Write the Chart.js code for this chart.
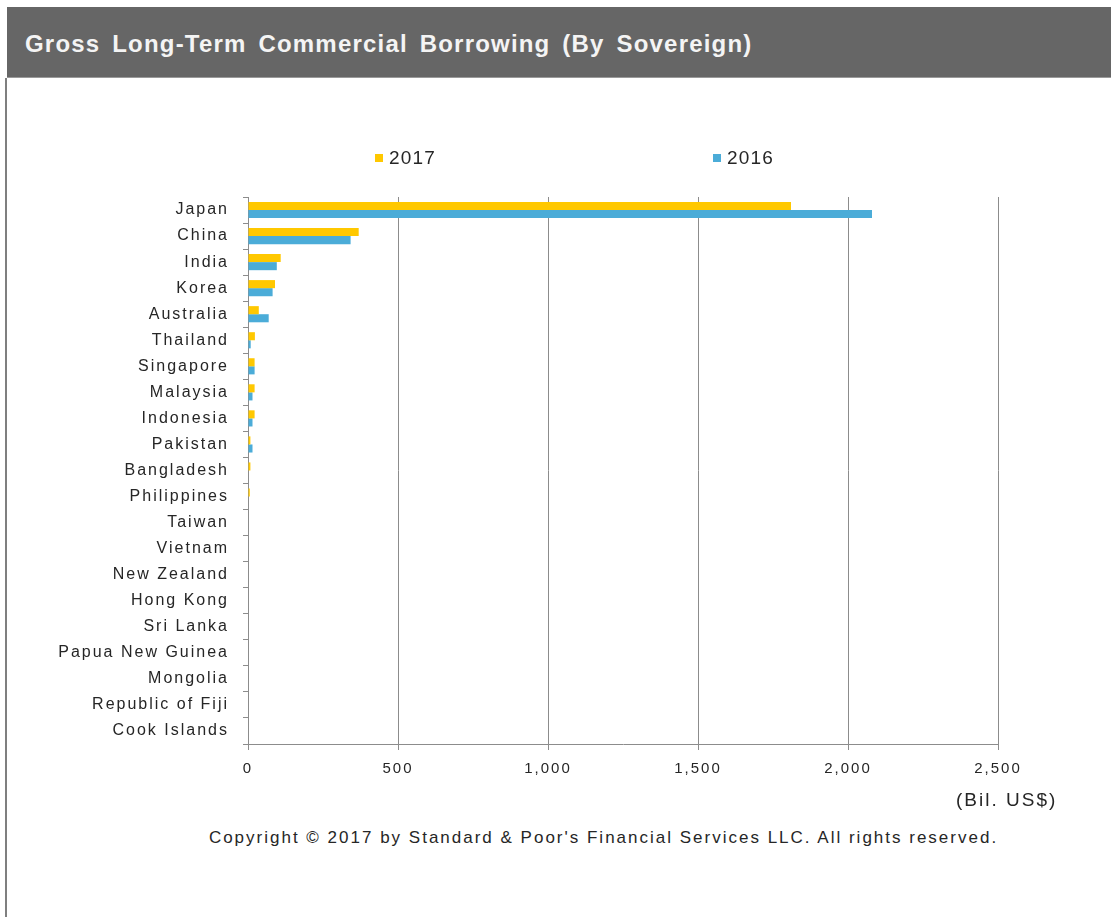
<!DOCTYPE html>
<html>
<head>
<meta charset="utf-8">
<script src="https://cdn.jsdelivr.net/npm/chart.js@4.4.1/dist/chart.umd.min.js"></script>
<style>
  html, body { margin: 0; padding: 0; background: #ffffff; }
  body { width: 1111px; height: 917px; position: relative; overflow: hidden; font-family: "Liberation Sans", Arial, sans-serif; }
  #titlebar { position: absolute; left: 7px; top: 7px; width: 1104px; height: 71px; background: #666666; border-bottom: 1px solid #9a9a9a; box-sizing: border-box; }
  #titlebar span { position: absolute; left: 18px; top: 23px; font-size: 24px; font-weight: bold; color: #f4f4f4; letter-spacing: 1.2px; word-spacing: 4px; white-space: nowrap; }
  #leftline { position: absolute; left: 5px; top: 78px; width: 2px; height: 839px; background: #7f7f7f; }
  #chartwrap { position: absolute; left: 0; top: 0; width: 1111px; height: 800px; }
  .leg { position: absolute; top: 146px; font-size: 19px; color: #262626; letter-spacing: 1.2px; line-height: 24px; }
  .leg i { display: inline-block; width: 8px; height: 8px; margin-right: 6px; vertical-align: 2px; }
  #unit { position: absolute; left: 956px; top: 789px; font-size: 19px; color: #262626; letter-spacing: 2px; }
  #copy { position: absolute; left: 0; width: 1207px; text-align: center; top: 828px; font-size: 17px; color: #262626; letter-spacing: 2px; }
</style>
</head>
<body>
<div id="titlebar"><span>Gross Long-Term Commercial Borrowing (By Sovereign)</span></div>
<div id="leftline"></div>
<div id="chartwrap"><canvas id="c" width="1111" height="800"></canvas></div>
<div class="leg" id="leg0" style="left:375px"><i></i><span></span></div>
<div class="leg" id="leg1" style="left:713px"><i></i><span></span></div>
<div id="unit">(Bil. US$)</div>
<div id="copy">Copyright © 2017 by Standard &amp; Poor's Financial Services LLC. All rights reserved.</div>
<script>
const categories = ["Japan", "China", "India", "Korea", "Australia", "Thailand", "Singapore", "Malaysia", "Indonesia", "Pakistan", "Bangladesh", "Philippines", "Taiwan", "Vietnam", "New Zealand", "Hong Kong", "Sri Lanka", "Papua New Guinea", "Mongolia", "Republic of Fiji", "Cook Islands"];
const seriesNames = ["2017", "2016"];
const values2017 = [1810, 369, 109, 90, 36, 23, 22, 22, 22, 8, 8, 6, 0, 0, 0, 0, 0, 0, 0, 0, 0];
const values2016 = [2080, 342, 96, 82, 69, 9, 22, 15, 15, 15, 0, 0, 0, 0, 0, 0, 0, 0, 0, 0, 0];
const xTicks = [0, 500, 1000, 1500, 2000, 2500];
const colors = ["#FFC800", "#4BACD8"];

// HTML legend from series names/colours
[0, 1].forEach(i => {
  const el = document.getElementById('leg' + i);
  el.querySelector('i').style.background = colors[i];
  el.querySelector('span').textContent = seriesNames[i];
});

const spacingPlugin = {
  id: 'spacing',
  beforeDraw(chart) { chart.ctx.letterSpacing = '2px'; }
};

const axisColor = '#8c8c8c';
new Chart(document.getElementById('c'), {
  type: 'bar',
  data: {
    labels: categories,
    datasets: [
      { label: seriesNames[0], data: values2017, backgroundColor: colors[0], borderWidth: 0, barPercentage: 1, categoryPercentage: 0.62 },
      { label: seriesNames[1], data: values2016, backgroundColor: colors[1], borderWidth: 0, barPercentage: 1, categoryPercentage: 0.62 }
    ]
  },
  plugins: [spacingPlugin],
  options: {
    indexAxis: 'y',
    responsive: false,
    animation: false,
    devicePixelRatio: 1,
    layout: { padding: { top: 197, right: 113, bottom: 0, left: 0 } },
    plugins: { legend: { display: false }, title: { display: false }, tooltip: { enabled: false } },
    scales: {
      x: {
        min: xTicks[0], max: xTicks[xTicks.length - 1],
        afterBuildTicks(scale) { scale.ticks = xTicks.map(v => ({ value: v })); },
        afterFit(scale) { scale.height = 56; },
        ticks: {
          font: { family: "'Liberation Sans', Arial, sans-serif", size: 15 },
          color: '#262626', padding: 10, maxRotation: 0,
          callback: v => v.toLocaleString('en-US')
        },
        grid: { color: axisColor, lineWidth: 1, tickLength: 6, drawTicks: true },
        border: { color: axisColor, width: 1 }
      },
      y: {
        afterFit(scale) { scale.width = 248; },
        ticks: {
          font: { family: "'Liberation Sans', Arial, sans-serif", size: 16 },
          color: '#262626', padding: 14, autoSkip: false
        },
        grid: { drawOnChartArea: false, color: axisColor, tickLength: 5, offset: true },
        border: { color: axisColor, width: 1 }
      }
    }
  }
});
</script>
</body>
</html>
